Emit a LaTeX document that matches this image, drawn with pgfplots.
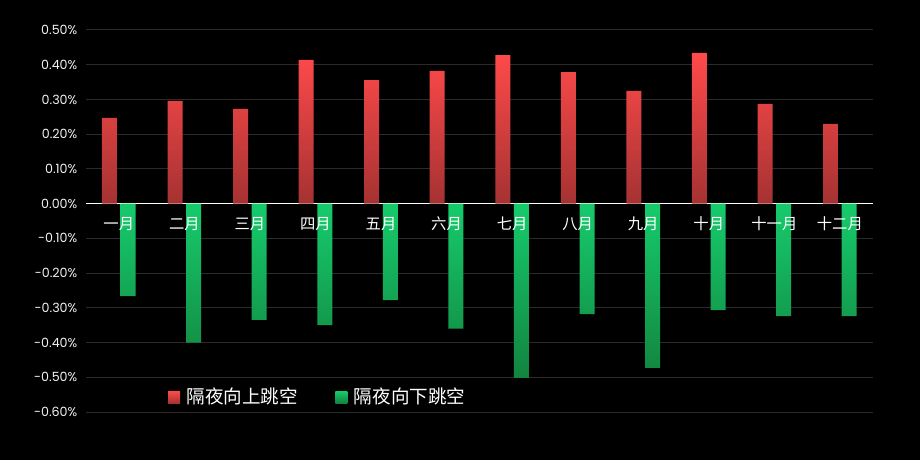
\documentclass[border=0pt]{standalone}
\usepackage{fontspec}
\setmainfont{Poppins}
\newfontfamily\cjk{Noto Sans CJK SC}
\usepackage{xcolor}
\usepackage{pgfplots}
\pgfplotsset{compat=1.18}
\pagecolor{black}

\definecolor{upTop}{HTML}{FF4A4A}
\definecolor{upBot}{HTML}{A53232}
\definecolor{dnTop}{HTML}{16CB6C}
\definecolor{dnBot}{HTML}{12843F}
\definecolor{gridc}{HTML}{2A2A2A}
\definecolor{ticktext}{HTML}{F2F2F2}

\tikzset{month/.style={font=\cjk\fontsize{11.5}{13}\selectfont, text=white,
    anchor=center, yshift=-15pt}}

\begin{document}
\begin{tikzpicture}
\path (-64.5pt,-36pt) rectangle (625.5pt,309pt);
\begin{axis}[
  at={(0,0)}, anchor=south west,
  scale only axis, width=590pt, height=286.5pt,
  xmin=0.5, xmax=12.5, ymin=-0.6, ymax=0.5,
  axis x line=middle, axis y line=left,
  x axis line style={-, white, line width=1pt},
  y axis line style={draw=none},
  hide obscured y ticks=false,
  major tick length=0pt,
  xtick=\empty,
  ytick={-0.6,-0.5,-0.4,-0.3,-0.2,-0.1,0,0.1,0.2,0.3,0.4,0.5},
  yticklabels={-0.60\%,-0.50\%,-0.40\%,-0.30\%,-0.20\%,-0.10\%,0.00\%,0.10\%,0.20\%,0.30\%,0.40\%,0.50\%},
  yticklabel style={font=\fontsize{9.5}{11}\selectfont, text=ticktext, xshift=-3pt},
  ymajorgrids, grid style={gridc, line width=0.75pt},
  ybar=2.75pt, bar width=11.25pt,
  legend style={at={(0.104,0.039)}, anchor=west, draw=none, fill=none,
    text=white, font=\cjk\fontsize{13.9}{15}\selectfont, inner sep=0pt,
    legend columns=2,
    /tikz/every odd column/.append style={column sep=3pt},
    /tikz/every even column/.append style={column sep=26pt}},
  legend cell align=left,
]
\addplot[draw=none, top color=upTop, bottom color=upBot,
  legend image code/.code={\shade[top color=upTop,bottom color=upBot] (0pt,-4.5pt) rectangle (9pt,4.5pt);}]
  coordinates {(1,0.247) (2,0.296) (3,0.273) (4,0.414) (5,0.356) (6,0.382)
               (7,0.428) (8,0.379) (9,0.325) (10,0.434) (11,0.287) (12,0.230)};
\addplot[draw=none, top color=dnTop, bottom color=dnBot,
  legend image code/.code={\shade[top color=dnTop,bottom color=dnBot] (0pt,-4.5pt) rectangle (9pt,4.5pt);}]
  coordinates {(1,-0.266) (2,-0.400) (3,-0.335) (4,-0.350) (5,-0.278) (6,-0.360)
               (7,-0.502) (8,-0.318) (9,-0.473) (10,-0.307) (11,-0.324) (12,-0.324)};
\legend{隔夜向上跳空,隔夜向下跳空}
% month names sit just under the zero line, on top of the green bars
\node[month] at (axis cs:1,0) {一月};
\node[month] at (axis cs:2,0) {二月};
\node[month] at (axis cs:3,0) {三月};
\node[month] at (axis cs:4,0) {四月};
\node[month] at (axis cs:5,0) {五月};
\node[month] at (axis cs:6,0) {六月};
\node[month] at (axis cs:7,0) {七月};
\node[month] at (axis cs:8,0) {八月};
\node[month] at (axis cs:9,0) {九月};
\node[month] at (axis cs:10,0) {十月};
\node[month] at (axis cs:11,0) {十一月};
\node[month] at (axis cs:12,0) {十二月};
\end{axis}
\end{tikzpicture}
\end{document}
